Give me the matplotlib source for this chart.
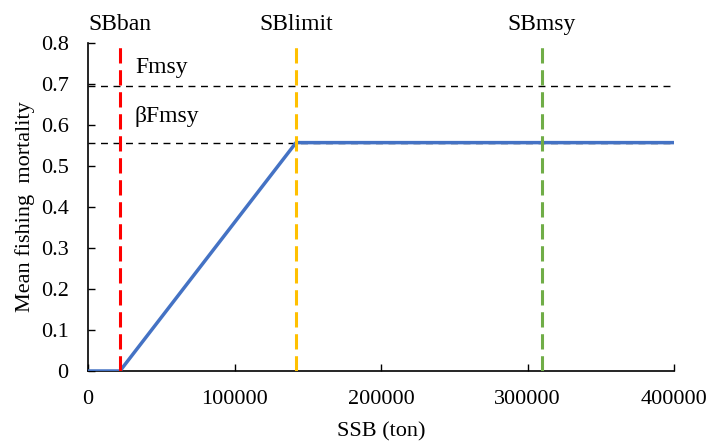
import matplotlib
matplotlib.use("Agg")
import matplotlib.pyplot as plt

# Data
sb_ban = 21800
sb_limit = 142000
sb_msy = 309700
f_msy = 0.696
beta_f_msy = 0.557
x_max = 400000
hcr_x = [0, sb_ban, sb_limit, x_max]
hcr_y = [0, 0, beta_f_msy, beta_f_msy]
x_ticks = [0, 100000, 200000, 300000, 400000]
y_ticks = [0, 0.1, 0.2, 0.3, 0.4, 0.5, 0.6, 0.7, 0.8]
y_ticklabels = ["0", "0.1", "0.2", "0.3", "0.4", "0.5", "0.6", "0.7", "0.8"]

plt.rcParams['font.family'] = ['Liberation Serif', 'DejaVu Serif']

fig = plt.figure(figsize=(7.11, 4.45), dpi=100)
ax = fig.add_axes([0.1238, 0.1663, 0.948 - 0.1238, 0.9034 - 0.1663])

ax.hlines([f_msy, beta_f_msy], 0, x_max, colors='black', linestyles=(0, (5, 4)), linewidth=1.0, zorder=2)
ax.plot(hcr_x, hcr_y, color='#4472C4', linewidth=2.5, zorder=3, solid_capstyle='butt')
ax.vlines(sb_ban, 0, 0.8, colors='#FF0000', linestyles=(0, (5, 2.2)), linewidth=2.2, zorder=4)
ax.vlines(sb_limit, 0, 0.8, colors='#FFC000', linestyles=(0, (5, 2.2)), linewidth=2.2, zorder=4)
ax.vlines(sb_msy, 0, 0.8, colors='#70AD47', linestyles=(0, (5, 2.2)), linewidth=2.2, zorder=4)

for xv, lab in [(sb_ban, 'SBban'), (sb_limit, 'SBlimit'), (sb_msy, 'SBmsy')]:
    ax.text(xv, 0.845, lab, ha='center', va='center', fontsize=17, clip_on=False)
ax.text(32000, 0.739, 'Fmsy', ha='left', va='center', fontsize=17)
ax.text(32000, 0.62, 'βFmsy', ha='left', va='center', fontsize=17)

ax.set_xlim(0, x_max)
ax.set_ylim(0, 0.8)
ax.set_xticks(x_ticks)
ax.set_xticklabels([str(v) for v in x_ticks])
ax.set_yticks(y_ticks)
ax.set_yticklabels(y_ticklabels)
ax.tick_params(direction='in', length=5, width=1, labelsize=16)
ax.tick_params(axis='x', pad=14)
ax.tick_params(axis='y', pad=14)
for s in ['top', 'right']:
    ax.spines[s].set_visible(False)
for s in ['left', 'bottom']:
    ax.spines[s].set_linewidth(1.2)
ax.set_xlabel('SSB (ton)', fontsize=16, labelpad=9)
ax.set_ylabel('Mean fishing  mortality', fontsize=16, labelpad=4)

fig.savefig('out.png', dpi=100)
